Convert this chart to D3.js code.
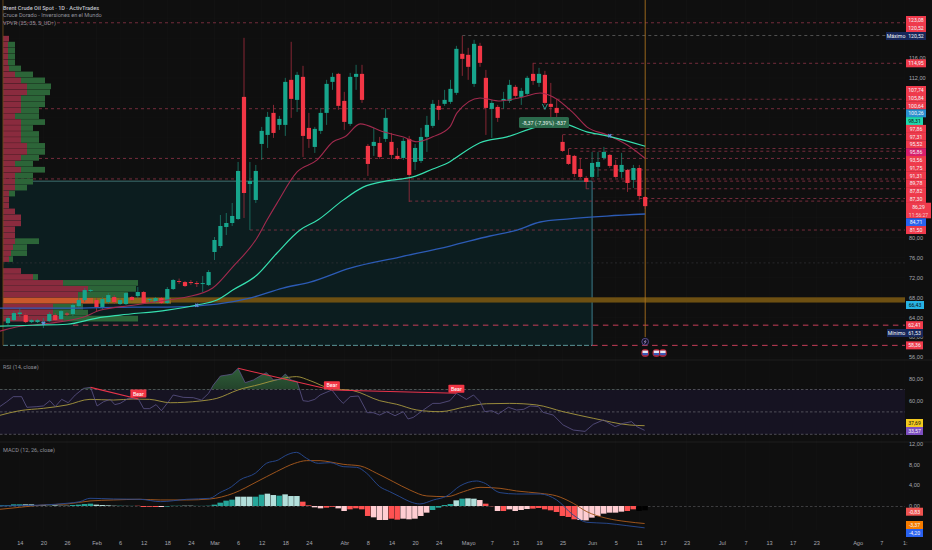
<!DOCTYPE html>
<html><head><meta charset="utf-8">
<script src="https://cdn.jsdelivr.net/npm/d3@7/dist/d3.min.js"></script>
<style>
html,body{margin:0;padding:0;background:#0f0f0f;overflow:hidden}
svg{display:block;font-family:Roboto,"Liberation Sans",sans-serif}
</style></head><body><svg id="c" width="932" height="550"></svg>
<script>
// ---------- candles (bar index 0..108) ----------
const opens=[62.83,63.43,64.64,64.44,63.03,63.03,62.83,63.23,64.44,63.63,64.74,64.64,66.24,67.45,69.26,67.45,65.84,67.05,68.05,66.65,66.65,68.05,68.25,69.06,67.45,67.05,67.85,66.85,69.66,71.27,71.06,71.06,70.86,70.66,70.46,77.09,78.29,82.11,82.91,83.71,108.21,90.74,87.53,98.77,100.58,105,102.59,102.59,111.63,107.61,112.23,101.99,98.17,101.39,105,111.22,112.83,107.41,102.79,112.23,112.83,98.37,98.37,98.97,99.78,99.18,96.37,95.96,99.78,95.16,95.36,100.18,102.39,106.41,106.81,107.21,109.02,116.85,116.65,110.82,118.45,112.03,105.8,106.2,107.41,107.41,110.22,108.21,108.81,112.83,111.02,112.63,106.81,106,99.18,96.57,96.37,93.75,91.95,92.15,94.16,95.96,96.57,94.56,93.15,93.55,91.55,93.95,88.13];
const highs=[64.24,65.24,65.84,64.84,63.63,63.63,63.84,65.04,64.84,65.44,65.04,66.85,67.85,69.86,69.66,67.85,68.05,68.85,68.45,67.85,69.05,68.25,70.06,69.26,67.85,68.05,68.05,70.06,71.67,71.77,71.27,71.47,71.27,72.27,73.47,80.1,84.52,84.92,86.93,95.16,120.06,95.16,94.56,102.19,105.2,106.61,104.4,112.03,119.26,113.23,114.44,105,102.19,106,111.63,113.03,113.03,109.22,113.03,114.64,114.64,98.77,101.99,100.18,105.8,100.98,97.97,99.98,100.38,98.77,101.99,104.4,107.61,107.61,109.62,111.63,118.45,120.46,118.05,119.66,119.06,113.63,107.61,106.61,109.22,111.63,110.62,110.02,112.43,115.04,114.04,113.43,111.02,107.81,100.58,97.77,96.57,95.96,92.35,97.17,97.17,98.17,96.77,95.56,96.97,93.75,94.56,94.56,88.33];
const lows=[62.43,63.23,64.03,62.83,62.83,62.83,61.83,63.03,63.23,63.43,64.24,64.24,65.84,67.05,69.06,65.24,65.64,66.65,66.65,66.45,66.45,67.25,67.85,66.65,67.05,66.85,66.65,66.65,69.46,70.66,70.06,70.46,70.06,69.06,70.26,75.48,77.89,80.5,82.31,83.51,83.92,81.51,86.93,95.56,97.97,99.98,101.59,100.38,104,105.2,96.16,97.97,96.97,100.78,102.59,109.62,105.6,101.59,102.39,109.62,107,92.35,96.37,95.76,99.18,95.76,95.56,95.56,87.13,93.55,94.96,97.17,101.99,103.59,106.41,106.81,108.61,112.43,111.63,110.22,114.24,100.58,99.98,103.19,105.8,107,108,106.6,108.41,110.62,110.22,106.6,103.99,103,97.17,94.56,92.15,91.95,89.74,91.95,92.15,95.56,93.95,91.95,91.95,89.14,89.94,87.53,85.72];
const closes=[63.84,64.84,64.94,63.03,63.43,63.43,63.03,64.64,63.43,65.24,64.54,66.45,67.45,69.46,69.46,66.05,67.65,68.45,67.05,67.45,68.85,67.45,69.06,66.85,67.65,67.85,66.85,69.66,71.47,71.11,70.26,70.86,70.66,70.86,73.07,79.5,82.31,82.91,84.32,93.35,88.93,91.34,93.35,101.39,104.2,100.98,103.79,111.22,107.81,112.63,100.38,99.78,101.79,105,110.82,112.23,106.41,103.19,112.23,112.83,107.61,94.76,99.18,96.16,104,96.57,95.76,99.38,92.55,97.97,100.18,102.59,106.81,105.6,107.61,109.82,117.85,115.84,114.24,118.85,115.04,106,107,104,107.81,110.62,108.41,109.42,112.03,111.42,112.83,107,106.2,105,97.37,94.76,92.75,92.15,91.14,94.96,95.16,97.17,94.36,92.15,94.56,90.94,93.95,88.33,86.29];

// ---------- moving averages (knots) ----------
const maRedIdx=[-1.4,1.2,7,12.7,15.6,21.2,27,30.3,34.7,38.1,42.2,43.9,45.6,49,52.4,55.1,57.1,59.7,63.6,66.9,69.3,72,74.9,76.1,80,83.4,87.3,90.2,92.4,95.8,98.1,101.5,104.9,108];
const maRed=[61.2,62,62.8,64,65.4,66.4,67.45,68.05,69.86,74.1,79.9,83.5,86.9,93.15,95.56,99.2,100.2,102.8,101.2,100.2,99.2,100.2,102.2,105,108,107.4,108.2,109,108.2,105,102.2,100.6,98.6,95.86];
const maGreenIdx=[-1.4,4.2,10,15.1,19,27,32,35.4,38.1,42.2,45.6,49.5,52.5,56.8,60.2,64.2,68.6,72,74.9,76.1,80,84.6,89.7,94,98.1,101.5,108];
const maGreen=[62.2,62.4,62.6,63.84,64.44,65.44,66.45,67.45,69.46,72.47,76.89,81.5,83.5,87.5,90.1,91.35,92.15,93.75,95.2,96.16,99,100.2,102.2,102.8,101.2,100.4,98.31];
const maBlueIdx=[-1.4,10,21.2,27,35.4,41,46.6,51.2,58,66.4,74.9,81.7,86.3,90.2,94.7,101.5,108];
const maBlue=[65.84,65.84,66.05,66.05,66.65,67.85,69.86,71.06,73.87,76.08,78.29,80.3,81.5,83.11,83.7,84.3,84.71];
const crossIdx=[6,32,102];
const crossPrice=[62.8,66.4,100.4];

// ---------- horizontal levels ----------
const levelPrices=[123.08,120.52,114.95,107.74,105.84,100.64,97.86,97.31,95.86,93.56,91.75,91.31,89.78,87.82,87.3,81.5,74.9,62.41,58.36];
const levelFrom=[-0.85,77,89,93,-0.85,94,95,97,-0.85,99,-0.85,98,98,107,68,41,-0.85,11,99];
const levelKind=["r","w","r","r","r","r","r","r","r","r","r","r","r","r","r","r","f","s","s"];

// ---------- volume profile (rows from top) ----------
const vpDown=[6,5,5,5,5,6,12,18,24,24,18,18,18,12,18,18,18,18,24,24,18,12,18,12,12,12,6,6,6,12,18,18,12,12,12,10,8,6,0,18,30,60,85,75,90,50,50,60];
const vpUp=[0,7,7,7,7,12,18,24,24,23,24,24,18,24,24,12,18,18,18,18,18,18,24,18,18,12,6,0,0,0,0,0,0,0,24,14,16,4,0,0,5,75,48,50,78,30,35,75];

// ---------- RSI ----------
const rsiIdx=[-1.4,-0.2,0.9,2.3,3.2,4.9,6,7.1,8,9.1,10.2,11.4,12.8,14,15.1,16.2,17.3,18.1,19,20.4,22.1,23,24,25.1,26,27.2,28,29.7,31.4,32.8,34,34.8,36,37.1,38,39,40.2,41.6,43,43.8,45,46.1,47,48,49,50,50.9,52,52.9,54.9,56,56.8,58,59.4,60.9,61.9,63,64.2,65.6,67,67.8,68.7,70.4,72,73.2,74.9,76,77.7,78.9,80,80.8,82,83.1,84.8,86.2,87.4,88.5,89.9,90.7,92.4,94.1,95.8,97.8,99.2,100.9,102.9,104.3,105.7,106.6,107.9];
const rsiVals=[54.7,59.1,63.6,63.6,54.1,54.7,55.3,60,54.7,61.2,58.2,65.1,71,71.9,55.3,59.1,61.2,56.5,57.6,62.1,61.5,52.9,52.9,56.5,51.1,59.1,65.1,63,62.7,60.6,66.6,74,82,82.9,83.8,88.9,76.1,78.5,82.9,85,78.5,79.1,83.8,78.5,77,60,59.4,61.2,65.1,69.6,62.1,57.6,63.6,64.2,49.3,49.3,47.2,50.2,46.6,50.2,43.7,45.1,51.7,57.6,57.6,60,66.6,61.2,65.1,59.1,50.2,51.1,48.1,54.1,51.7,52.3,55.3,54.7,49.6,47.2,38.3,33.8,32.6,38.9,42.8,36.8,39.8,41.3,36.8,33.57];
const rsiMaIdx=[-1.4,2,6,10,13.9,17.9,21.2,24,27.5,32.5,35.4,39,42.7,46.1,48.9,51.2,54.6,58.5,63,65.9,69.3,73.2,77.7,81.1,85,89.6,94.1,99.2,105.4,107.9];
const rsiMaVals=[46.9,51.1,53.2,56.2,61.2,60.6,61.5,61.2,58.2,59.7,62.1,69.6,74.6,79.4,81.5,77.9,71,69,60,56.8,51.7,50.2,54.7,57.3,57.6,56.2,50.2,44.3,38.3,37.69];
const rsiLevels=[70,50,30];
const bearFromIdx=[14,39,54.9];
const bearFromVal=[71.9,88.9,69.6];
const bearToIdx=[22.1,54.9,76];
const bearToVal=[61.5,69.6,66.6];

// ---------- MACD ----------
const macdIdx=[-1.4,2,6,10,12.2,13.9,17.9,22.4,25.8,30.3,34.2,35.9,37.9,39.3,41.9,43.8,45.8,47,48.9,50.6,52.6,54.6,56.8,59.1,60.8,63,64.7,66.4,68.1,69.8,72.1,74.4,76.6,79.4,80.6,83.4,86.2,90.2,93,95.8,98.1,101.5,104.9,107.9];
const macdVals=[0,0.07,0.2,0.52,0.84,1.48,1.35,1.29,0.84,1.29,1.48,2.57,3.72,5,6.29,8.21,8.85,9.68,10.32,9.17,8.21,8.34,7.57,7.44,6.29,3.72,2.76,1.8,0.84,0.39,1.16,1.93,3.85,4.81,4.49,2.57,2.31,2.31,1.16,-1.73,-3.14,-3.33,-3.78,-4.2];
const signalIdx=[-1.4,2,6,10,13.9,17.9,22.4,25.8,30.3,34.2,38.2,42.2,45.5,48.6,50.6,52.9,54.6,56.8,59.7,62.5,65.3,68.1,71,74.4,77.2,80,83.4,86.2,90.2,93,95.8,98.1,101.5,104.9,107.9];
const signalVals=[-0.64,-0.25,0.2,0.39,0.97,1.16,1.29,1.16,1.16,1.35,2.44,4.68,6.61,8.21,8.72,8.72,8.47,8.02,7.7,6.29,4.68,3.08,1.93,1.8,2.76,3.59,3.4,2.89,2.44,1.93,0.52,-1.09,-2.37,-3.01,-3.37];
// histogram, bar -1 .. 108
const histVals=[.13,.13,.32,.32,.32,.32,.13,.13,.06,.13,.06,.06,.19,.26,.38,.45,.26,.19,.13,.06,.06,.03,.03,.05,-.19,-.15,-.19,-.19,-.1,.05,.05,.06,.06,.03,.03,.06,.26,.64,1.03,1.22,1.79,1.79,1.79,1.79,2.18,2.37,2.11,1.99,2.24,1.92,1.92,.83,.13,-.26,-.45,-.32,-.15,-.45,-.96,-.64,-.45,-.64,-1.92,-2.18,-2.69,-2.69,-2.44,-2.63,-2.44,-2.56,-2.44,-1.92,-1.28,-.77,-.32,.19,.38,1.09,1.41,1.47,1.41,1.15,.45,-.05,-.96,-.96,-.64,-.96,-.77,-.58,-.51,-.38,-.64,-.83,-1.15,-1.92,-2.11,-2.56,-2.69,-2.76,-2.24,-1.92,-1.47,-1.28,-1.28,-1.09,-.96,-.64,-.96,-.83];
const histKind="GGGGggggGgggGGGGggggGgGRRRRrGGGggGGGGGGGgggGGggGgggRRrrRRrrRRRRrrrRRrrrrrGGGGgGggrRRrRrrrrRRRRRRRRrrrrrrrrRR";

// ---------- axis and tag text ----------
const xTickIdx=[2,6,10,15,19,23,27,31,35,39,43,47,51,57,61,65,69,73,78,82,86,90,94,99,103,107,111,115,121,125,129,133,137,144,148,152];
const xTickLabels=["14","20","26","Feb","6","12","18","24","Mar","6","12","18","24","Abr","8","14","20","24","Mayo","7","13","19","25","Jun","5","11","17","23","Jul","7","13","17","23","Ago","7","1:"];
const gridTicks=[56,60,64,68,72,76,80,84,88,92,96,100,104,108,112,116,120,124];
const priceTicks=[56,60,64,68,72,76,80,112,116];
const rsiTicks=[80,60];
const macdTicks=[12,8,4,0];
const stackTags=["107,74","105,84","100,64","100,26","98,31","97,86","97,31","95,52","95,86","93,56","91,75","91,31","89,78","87,82","87,30","86,29","11:56:27","84,71","81,50"];
const stackColors=["r","r","r","b","t","r","r","r","p","r","r","r","r","r","r","r","r","B","r"];
const tvTags=["123,08","120,52","114,95","66,43","62,41","58,36"];
const titles=["Brent Crude Oil Spot · 1D · ActivTrades","Cruce Dorado - Inversiones en el Mundo","VPVR (25, 35, S_UD↑)"];

// ---------- scales ----------
const svg=d3.select("#c");
const W=932,H=550,right=905;
const x=d3.scaleLinear().domain([0,108]).range([8,645.2]);
const y=d3.scaleLinear().domain([80,112]).range([237.5,78]);
const yR=d3.scaleLinear().domain([80,30]).range([378.3,434.3]);
const yM=d3.scaleLinear().domain([0,8]).range([506,464.4]);
const vx=d3.scaleLinear().domain([0,180]).range([3,183]);
const fmt=d3.formatLocale({decimal:",",thousands:".",grouping:[3],currency:["",""]}).format(".2f");
const C={up:"#17a58c",dn:"#f23645",grid:"rgba(255,255,255,0.016)"};

svg.append("rect").attr("width",W).attr("height",H).attr("fill","#0f0f0f");

// grid
const grid=svg.append("g").attr("stroke",C.grid).attr("stroke-width",1);
grid.selectAll("line.g").data(gridTicks).join("line").attr("x1",0).attr("x2",right).attr("y1",d=>y(d)).attr("y2",d=>y(d));
grid.selectAll("line.v").data(xTickIdx).join("line").attr("y1",0).attr("y2",530).attr("x1",d=>x(d)).attr("x2",d=>x(d));

// value-area box
const boxTop=91.31,boxBot=58.36;
svg.append("rect").attr("x",x(-0.85)).attr("width",x(99)-x(-0.85)).attr("y",y(boxTop)).attr("height",y(boxBot)-y(boxTop)).attr("fill","#0c1d1f");
svg.append("line").attr("x1",x(-0.85)).attr("x2",x(99)).attr("y1",y(boxTop)).attr("y2",y(boxTop)).attr("stroke","#4f8a8c").attr("stroke-width",.8);
svg.append("line").attr("x1",x(99)).attr("x2",x(99)).attr("y1",y(boxTop)).attr("y2",y(boxBot)).attr("stroke","#3f8797").attr("stroke-width",.9);
svg.append("line").attr("x1",x(-0.85)).attr("x2",x(99)).attr("y1",y(boxBot)).attr("y2",y(boxBot)).attr("stroke","#6fb4b8").attr("stroke-width",.8).attr("stroke-dasharray","5 2");

// levels
const lvl={r:["#8e3348",.8,"3 3"],w:["#6f6f6f",.7,"3 3"],f:["#343438",.7,"2 2.5"],s:["#c63d58",1,"5.5 4.5"]};
svg.append("g").selectAll("line").data(levelPrices).join("line")
 .attr("x1",(d,i)=>x(levelFrom[i])).attr("x2",right).attr("y1",d=>y(d)).attr("y2",d=>y(d))
 .attr("stroke",(d,i)=>lvl[levelKind[i]][0]).attr("stroke-width",(d,i)=>lvl[levelKind[i]][1]).attr("stroke-dasharray",(d,i)=>lvl[levelKind[i]][2]);

// POC band
const pocTop=68.0,pocBot=66.95;
svg.append("rect").attr("x",vx(0)).attr("width",right-vx(0)).attr("y",y(pocTop)).attr("height",y(pocBot)-y(pocTop)).attr("fill","#6e5012");

// volume profile
const rowTop=120.46,rowStep=1.195;
const vp=svg.append("g");
vpDown.forEach((d,i)=>{
  const t=y(rowTop-rowStep*i),h=y(rowTop-rowStep*(i+1))-t-.25;
  const poc=i===44;
  vp.append("rect").attr("x",vx(0)).attr("y",t).attr("width",vx(d)-vx(0)).attr("height",h).attr("fill",poc?"#c9582a":"#8a2b3e");
  vp.append("rect").attr("x",vx(d)).attr("y",t).attr("width",vx(vpUp[i])-vx(0)).attr("height",h).attr("fill",poc?"#8a6a1c":"#2c6538");
});

// reference verticals
svg.append("line").attr("x1",x(-0.85)).attr("x2",x(-0.85)).attr("y1",0).attr("y2",y(boxBot)).attr("stroke","#6b4a1a").attr("stroke-width",.9);
svg.append("line").attr("x1",x(108)).attr("x2",x(108)).attr("y1",0).attr("y2",337).attr("stroke","#a8701e").attr("stroke-width",.9);

// candles
const idx=d3.range(opens.length);
const cg=svg.append("g");
cg.selectAll("line").data(idx).join("line")
 .attr("x1",i=>x(i)).attr("x2",i=>x(i)).attr("y1",i=>y(highs[i])).attr("y2",i=>y(lows[i]))
 .attr("stroke",i=>closes[i]>=opens[i]?"#1c7e6c":"#a52c3c").attr("stroke-width",.8);
cg.selectAll("rect").data(idx).join("rect")
 .attr("x",i=>x(i)-2.1).attr("width",4.2)
 .attr("y",i=>y(Math.max(opens[i],closes[i])))
 .attr("height",i=>Math.max(.9,Math.abs(y(opens[i])-y(closes[i]))))
 .attr("fill",i=>closes[i]>=opens[i]?C.up:C.dn);

// MAs
const lineOf=(ids,vals,sy)=>d3.line().x((d,i)=>x(ids[i])).y(d=>sy(d)).curve(d3.curveMonotoneX)(vals);
svg.append("path").attr("d",lineOf(maBlueIdx,maBlue,y)).attr("fill","none").attr("stroke","#2c5bb5").attr("stroke-width",1.3);
svg.append("path").attr("d",lineOf(maRedIdx,maRed,y)).attr("fill","none").attr("stroke","#a22a4e").attr("stroke-width",1.1);
svg.append("path").attr("d",lineOf(maGreenIdx,maGreen,y)).attr("fill","none").attr("stroke","#36e0b0").attr("stroke-width",1.2);
svg.append("g").selectAll("path").data(crossIdx).join("path")
 .attr("d",d3.symbol(d3.symbolCross,10))
 .attr("transform",(d,i)=>`translate(${x(d)},${y(crossPrice[i])}) rotate(45)`).attr("fill","#5f8fd8");

// price action marker
const dropIdx=91,dropTop=106.8,dropBot=105.5;
svg.append("path").attr("d",`M${x(dropIdx)-2.5},${y(dropTop)}L${x(dropIdx)},${y(dropBot)-1}L${x(dropIdx)+2.5},${y(dropTop)}`).attr("fill","none").attr("stroke","#2fa89a").attr("stroke-width",.9);
svg.append("rect").attr("x",519).attr("y",117).attr("width",50).attr("height",11).attr("rx",1.5).attr("fill","#2b6a4c");
svg.append("text").attr("x",544).attr("y",124.6).attr("text-anchor","middle").attr("font-size",5.4).attr("fill","#e8f2ec").text("-8,37 (-7,39%) -837");

// event icons
const iconIdx=[108,109.9,111];
svg.append("circle").attr("cx",x(108)).attr("cy",341.7).attr("r",3.4).attr("fill","#141225").attr("stroke","#6f5fb0").attr("stroke-width",.7);
svg.append("path").attr("d",`M${x(108)+.7},339.8L${x(108)-1},342L${x(108)+.9},341.6L${x(108)-.7},343.8`).attr("fill","none").attr("stroke","#b8a8e0").attr("stroke-width",.6);
svg.append("g").selectAll("g").data(iconIdx).join("g").each(function(d){
  const g=d3.select(this);
  g.append("circle").attr("cx",x(d)).attr("cy",353).attr("r",4).attr("fill","#a82234");
  g.append("rect").attr("x",x(d)-2.7).attr("y",350.6).attr("width",5.4).attr("height",2.4).attr("fill","#e6e8f4");
  g.append("rect").attr("x",x(d)-2.7).attr("y",353).attr("width",5.4).attr("height",2.2).attr("fill","#3a5ab8");
});

// titles
svg.append("g").selectAll("text").data(titles).join("text")
 .attr("x",3).attr("y",(d,i)=>9.6+i*7.8).attr("font-size",5.6)
 .attr("font-weight",(d,i)=>i?400:500).attr("fill",(d,i)=>i?"#8f929b":"#c2c4cb").text(d=>d);

// pane separators
[360,442].forEach(v=>svg.append("line").attr("x1",0).attr("x2",W).attr("y1",v).attr("y2",v).attr("stroke","#262626").attr("stroke-width",.7));

// RSI pane
svg.append("rect").attr("x",0).attr("width",right).attr("y",yR(70)).attr("height",yR(30)-yR(70)).attr("fill","#161322");
svg.append("g").selectAll("line").data(rsiLevels).join("line").attr("x1",0).attr("x2",right).attr("y1",d=>yR(d)).attr("y2",d=>yR(d))
 .attr("stroke","#77777f").attr("stroke-width",.6).attr("stroke-dasharray","2.5 2");
const defs=svg.append("defs");
const gr=defs.append("linearGradient").attr("id","ob").attr("x1",0).attr("x2",0).attr("y1",0).attr("y2",1);
gr.append("stop").attr("offset",0).attr("stop-color","#3a7a48").attr("stop-opacity",.75);
gr.append("stop").attr("offset",1).attr("stop-color","#2a5a38").attr("stop-opacity",.12);
defs.append("clipPath").attr("id","above").append("rect").attr("x",0).attr("width",W).attr("y",yR(95)).attr("height",yR(70)-yR(95));
svg.append("path").attr("clip-path","url(#above)").attr("fill","url(#ob)")
 .attr("d",d3.area().x((d,i)=>x(rsiIdx[i])).y0(yR(70)).y1(d=>yR(d)).curve(d3.curveLinear)(rsiVals));
svg.append("path").attr("d",lineOf(rsiMaIdx,rsiMaVals,yR)).attr("fill","none").attr("stroke","#a8983e").attr("stroke-width",.9);
svg.append("path").attr("d",d3.line().x((d,i)=>x(rsiIdx[i])).y(d=>yR(d))(rsiVals)).attr("fill","none").attr("stroke","#5c5488").attr("stroke-width",.8);
svg.append("g").selectAll("line").data(bearFromIdx).join("line")
 .attr("x1",d=>x(d)).attr("y1",(d,i)=>yR(bearFromVal[i])).attr("x2",(d,i)=>x(bearToIdx[i])).attr("y2",(d,i)=>yR(bearToVal[i]))
 .attr("stroke","#e8344a").attr("stroke-width",1.1);
bearToIdx.forEach((d,i)=>{
  const cx=x(d),ty=yR(bearToVal[i]);
  const top=i===0?ty-9.5:ty-8.6;
  svg.append("rect").attr("x",cx-8).attr("y",top).attr("width",16).attr("height",8).attr("rx",.8).attr("fill","#f23645");
  svg.append("text").attr("x",cx).attr("y",top+6).attr("text-anchor","middle").attr("font-size",5.4).attr("fill","#fff").text("Bear");
});

// MACD pane
svg.append("line").attr("x1",0).attr("x2",right).attr("y1",yM(0)+.5).attr("y2",yM(0)+.5).attr("stroke","#5a5a5e").attr("stroke-width",.6).attr("stroke-dasharray","2.5 2");
const histColor={G:"#26a69a",g:"#b2dfdb",R:"#ff5252",r:"#ffcdd2"};
svg.append("g").selectAll("rect").data(histVals).join("rect")
 .attr("x",(d,i)=>x(i-1)-2.95).attr("width",5.5)
 .attr("y",d=>d>=0?yM(d):yM(0)).attr("height",d=>Math.abs(yM(d)-yM(0)))
 .attr("fill",(d,i)=>histColor[histKind[i]]);
svg.append("path").attr("d",lineOf(signalIdx,signalVals,yM)).attr("fill","none").attr("stroke","#a4571c").attr("stroke-width",.95);
svg.append("path").attr("d",lineOf(macdIdx,macdVals,yM)).attr("fill","none").attr("stroke","#27498f").attr("stroke-width",.95);

// pane titles
svg.append("text").attr("x",3).attr("y",369).attr("font-size",5.6).attr("fill","#8f929b").text("RSI (14, close)");
svg.append("text").attr("x",3).attr("y",452).attr("font-size",5.6).attr("fill","#8f929b").text("MACD (12, 26, close)");

// axes
function styleAxis(g){g.select(".domain").remove();g.selectAll("line").remove();g.selectAll("text").attr("font-size",5.6).attr("fill","#a6a8b0");}
svg.append("g").attr("transform",`translate(909,0)`).call(d3.axisRight(y).tickValues(priceTicks).tickFormat(fmt).tickSize(0).tickPadding(0)).call(styleAxis);
svg.append("g").attr("transform",`translate(909,0)`).call(d3.axisRight(yR).tickValues(rsiTicks).tickFormat(fmt).tickSize(0).tickPadding(0)).call(styleAxis);
svg.append("g").attr("transform",`translate(909,0)`).call(d3.axisRight(yM).tickValues(macdTicks).tickFormat(fmt).tickSize(0).tickPadding(0)).call(styleAxis);
svg.append("g").attr("transform",`translate(0,541)`).call(d3.axisBottom(x).tickValues(xTickIdx).tickFormat((d,i)=>xTickLabels[i]).tickSize(0).tickPadding(0)).call(styleAxis)
  .selectAll("text").attr("font-weight",(d,i)=>/[A-Za-z]/.test(xTickLabels[i])?500:400);

// price tags
const tagColor={r:"#ef3a4c",b:"#2a8fd0",t:"#1fd8ad",p:"#d81e6c",B:"#2962ef",s:"#27b3e4",n:"#17275a",y:"#f2c91e",v:"#7e4fc0",o:"#f57c00",R:"#ef5350"};
function tag(cy,txt,col,opt={}){
  const x0=opt.x||906,w=opt.w||20,h=opt.h||8;
  svg.append("rect").attr("x",x0).attr("y",cy-h/2).attr("width",w).attr("height",h).attr("fill",tagColor[col]);
  svg.append("text").attr("x",x0+w/2).attr("y",cy+2).attr("text-anchor","middle").attr("font-size",5.2)
    .attr("fill",opt.dark?"#101010":"#f4f4f6").text(txt);
}
tag(20,tvTags[0],"r"); tag(28,tvTags[1],"r");
tag(y(114.95),tvTags[2],"r");
tag(36,"Máximo","n",{x:886,w:20}); tag(36,"120,52","n");
const stackTop=90,stackStep=7.78;
stackTags.forEach((t,i)=>{
  if(t==="11:56:27"){return;}
  const cy=stackTop+i*stackStep;
  if(t==="86,29"){
    svg.append("rect").attr("x",906).attr("y",cy-4).attr("width",25).attr("height",15.6).attr("fill",tagColor.r);
    svg.append("text").attr("x",918.5).attr("y",cy+2).attr("text-anchor","middle").attr("font-size",5.2).attr("fill","#f4f4f6").text(t);
    svg.append("text").attr("x",918.5).attr("y",cy+9.8).attr("text-anchor","middle").attr("font-size",5).attr("fill","#f7c8cc").text("11:56:27");
    return;
  }
  tag(cy,t,stackColors[i],{dark:stackColors[i]==="t",w:stackColors[i]==="t"?17:20});
});
tag(305,tvTags[3],"s",{dark:true,w:18});
tag(y(62.41),tvTags[4],"r",{w:17});
tag(333,"Mínimo","n",{x:887,w:19}); tag(333,"61,53","n",{w:17});
tag(y(58.36),tvTags[5],"r",{w:17});
tag(423,"37,69","y",{dark:true,w:17});
tag(431,"33,57","v",{w:17});
tag(511.7,"-0,83","R",{w:17});
tag(525,"-3,37","o",{w:17});
tag(533,"-4,20","B",{w:17});
</script></body></html>
